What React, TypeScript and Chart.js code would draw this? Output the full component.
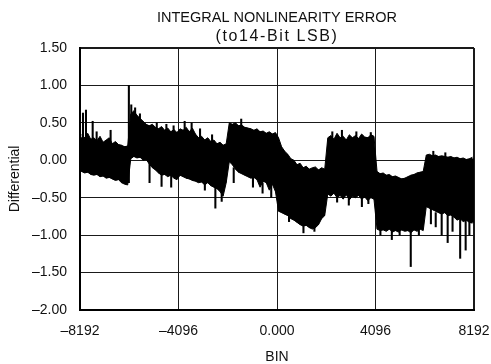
import React, { useEffect, useRef } from "react";
import { Chart, registerables } from "chart.js";

Chart.register(...registerables);

const TITLE = "INTEGRAL NONLINEARITY ERROR";
const SUBTITLE = "(to14-Bit LSB)";
const X_LABEL = "BIN";
const Y_LABEL = "Differential";
const X_TICKS = [-8192, -4096, 0, 4096, 8192];
const Y_TICKS = [-2, -1.5, -1, -0.5, 0, 0.5, 1, 1.5];

// code bins: 128 bins of 128 codes each, from -8192 to 8192
const BIN_FIRST = -8192;
const BIN_SIZE = 128;

// envelope of the error band per bin (LSB)
const seg1High = [0.34, 0.3, 0.36, 0.28, 0.3, 0.26, 0.32, 0.24, 0.27, 0.3, 0.22, 0.25, 0.21, 0.2, 0.18, 0.19];
const seg1Low = [-0.15, -0.17, -0.16, -0.19, -0.2, -0.19, -0.22, -0.21, -0.24, -0.23, -0.25, -0.27, -0.26, -0.3, -0.32, -0.33];
const seg2High = [0.62, 0.66, 0.6, 0.56, 0.52, 0.48, 0.46, 0.48, 0.44, 0.42, 0.45, 0.4, 0.43, 0.38, 0.41, 0.37,
  0.42, 0.4, 0.44, 0.38, 0.43, 0.35, 0.3, 0.32, 0.27, 0.3, 0.25, 0.27, 0.22, 0.24, 0.2, 0.22];
const seg2Low = [0.02, 0.05, 0.03, 0.04, 0.0, 0.01, -0.05, -0.1, -0.13, -0.17, -0.2, -0.19, -0.22, -0.2, -0.24, -0.26,
  -0.2, -0.22, -0.24, -0.25, -0.27, -0.28, -0.3, -0.29, -0.33, -0.3, -0.34, -0.36, -0.38, -0.42, -0.48, -0.3];
const seg3High = [0.5, 0.48, 0.5, 0.46, 0.47, 0.44, 0.43, 0.42, 0.4, 0.42, 0.38, 0.39, 0.36, 0.38, 0.35, 0.37];
const seg3Low = [-0.02, -0.06, -0.12, -0.16, -0.18, -0.2, -0.22, -0.24, -0.23, -0.26, -0.36, -0.28, -0.3, -0.4, -0.32, -0.42];
const seg4High = [0.3, 0.18, 0.12, 0.08, 0.02, 0.0, -0.06, -0.04, -0.1, -0.08, -0.12, -0.1, -0.09, -0.13, -0.1, -0.12];
const seg4Low = [-0.68, -0.7, -0.72, -0.74, -0.78, -0.8, -0.83, -0.86, -0.88, -0.87, -0.9, -0.92, -0.9, -0.86, -0.78, -0.74];
const seg5High = [0.3, 0.33, 0.28, 0.36, 0.3, 0.32, 0.27, 0.34, 0.3, 0.33, 0.29, 0.35, 0.31, 0.3, 0.34, 0.32];
const seg5Low = [-0.45, -0.48, -0.44, -0.5, -0.47, -0.52, -0.46, -0.53, -0.48, -0.5, -0.47, -0.52, -0.49, -0.54, -0.5, -0.52];
const seg6High = [-0.15, -0.18, -0.17, -0.2, -0.19, -0.22, -0.21, -0.23, -0.25, -0.24, -0.22, -0.2, -0.19, -0.17, -0.16, -0.15];
const seg6Low = [-0.92, -0.94, -0.93, -0.95, -0.92, -0.96, -0.94, -0.96, -0.93, -0.95, -0.94, -0.97, -0.93, -0.95, -0.92, -0.94];
const seg7High = [0.07, 0.08, 0.06, 0.07, 0.05, 0.06, 0.05, 0.04, 0.05, 0.03, 0.04, 0.02, 0.03, 0.01, 0.02, 0.04];
const seg7Low = [-0.62, -0.64, -0.66, -0.68, -0.7, -0.72, -0.7, -0.74, -0.73, -0.76, -0.8, -0.78, -0.82, -0.8, -0.83, -0.84];

// isolated glitches (code, from, to)
const spikeCodes = [-8068, -7943, -7665, -7500, -6919, -6160, -6060, -5900, -5700, -5000, -4600, -4300, -3840, -3550, -3200, -2700, -1488,
  -5300, -4800, -4400, -3000, -2563, -2300, -1800, -1000, -600, -240,
  500, 1100, 1556, 2300, 2700, 3300, 3900, 2500, 2986, 3530, 3800,
  4300, 4775, 5100, 5562, 5900, 6500, 7000, 6400, 6600, 6848, 7097, 7300, 7617, 7845, 8000];
const spikeFrom = [0.1, 0.1, 0.1, 0.1, 0.1, -0.3, 0.3, 0.3, 0.3, 0.3, 0.3, 0.3, 0.3, 0.3, 0.2, 0.2, 0.3,
  0.0, -0.15, -0.15, -0.2, -0.3, -0.3, -0.1, -0.2, -0.3, -0.3,
  -0.7, -0.8, -0.8, 0.2, 0.2, 0.2, 0.2, -0.4, -0.45, -0.45, -0.45,
  -0.9, -0.9, -0.9, -0.9, -0.9, 0.0, 0.0, -0.6, -0.7, -0.7, -0.7, -0.7, -0.7, -0.7, -0.7];
const spikeTo = [0.63, 0.67, 0.52, 0.38, 0.4, 1.0, 0.74, 0.7, 0.62, 0.5, 0.48, 0.46, 0.52, 0.5, 0.42, 0.34, 0.55,
  -0.3, -0.35, -0.36, -0.4, -0.64, -0.55, -0.3, -0.36, -0.44, -0.5,
  -0.82, -0.97, -0.95, 0.38, 0.4, 0.38, 0.37, -0.56, -0.6, -0.62, -0.58,
  -1.0, -1.06, -1.0, -1.42, -1.0, 0.12, 0.1, -0.85, -0.89, -1.0, -1.1, -0.95, -1.31, -1.2, -1.0];

const bodyHigh = [...seg1High, ...seg2High, ...seg3High, ...seg4High, ...seg5High, ...seg6High, ...seg7High];
const bodyLow = [...seg1Low, ...seg2Low, ...seg3Low, ...seg4Low, ...seg5Low, ...seg6Low, ...seg7Low];

const FONT = "'Liberation Sans', Arial, Helvetica, sans-serif";
const INK = "#111";

const fmtY = (v: number) => (v < 0 ? "\u2013" + Math.abs(v).toFixed(2) : v.toFixed(2));
const fmtX = (v: number) => (v === 0 ? "0.000" : v < 0 ? "\u2013" + Math.abs(v) : String(v));

// points at bin centres
const binX = (i: number) => BIN_FIRST + BIN_SIZE * (i + 0.5);
const toPoints = (vals: number[]) => vals.map((v, i) => ({ x: binX(i), y: v }));

export default function App() {
  const ref = useRef<HTMLCanvasElement | null>(null);

  useEffect(() => {
    if (!ref.current) return;
    const spikes = spikeCodes.map((c, i) => ({ x: c, y: [spikeFrom[i], spikeTo[i]] }));
    // inner core of each bin (never wider than the envelope), drawn as solid bars
    const core = bodyHigh.map((h, i) => {
      const hi = Math.min(h, i > 0 ? bodyHigh[i - 1] : h, i < bodyHigh.length - 1 ? bodyHigh[i + 1] : h);
      const lo = Math.max(bodyLow[i], i > 0 ? bodyLow[i - 1] : bodyLow[i], i < bodyLow.length - 1 ? bodyLow[i + 1] : bodyLow[i]);
      return { x: binX(i), y: [lo, hi] };
    });
    const chart = new Chart(ref.current, {
      type: "line",
      data: {
        datasets: [
          {
            type: "line",
            data: toPoints(bodyHigh) as any,
            borderColor: "#000",
            borderWidth: 1,
            pointRadius: 0,
            fill: false,
          } as any,
          {
            type: "line",
            data: toPoints(bodyLow) as any,
            borderColor: "#000",
            borderWidth: 1,
            backgroundColor: "#000",
            pointRadius: 0,
            fill: "-1",
          } as any,
          {
            type: "bar",
            data: core as any,
            backgroundColor: "#000",
            borderWidth: 0,
            barThickness: 6,
            grouped: false,
          } as any,
          {
            type: "bar",
            data: spikes as any,
            backgroundColor: "#000",
            borderWidth: 0,
            barThickness: 1.4,
            grouped: false,
          } as any,
        ],
      },
      options: {
        responsive: false,
        animation: false,
        devicePixelRatio: 1,
        layout: { padding: { left: 0, right: 17, top: 0, bottom: 0 } },
        plugins: {
          legend: { display: false },
          tooltip: { enabled: false },
          title: {
            display: true,
            text: TITLE,
            fullSize: false,
            color: INK,
            font: { family: FONT, size: 14.5, weight: "normal" },
            padding: { top: 9.5, bottom: 0 },
          },
          subtitle: {
            display: true,
            text: SUBTITLE,
            fullSize: false,
            color: INK,
            font: { family: FONT, size: 16, weight: "normal", lineHeight: 1.0 },
            padding: { top: 1.5, bottom: 3.5 },
          },
        },
        scales: {
          x: {
            type: "linear",
            min: -8192,
            max: 8192,
            offset: false,
            afterBuildTicks: (s: any) => {
              s.ticks = X_TICKS.map((v) => ({ value: v }));
            },
            afterFit: (s: any) => {
              s.height = 54;
              s.paddingLeft = 0;
              s.paddingRight = 0;
            },
            ticks: {
              callback: (v: any) => fmtX(Number(v)),
              color: INK,
              font: { family: FONT, size: 14 },
              padding: 13,
              maxRotation: 0,
              autoSkip: false,
            },
            grid: {
              color: "#1a1a1a",
              lineWidth: (c: any) => (c.tick && c.tick.value === 8192 ? 2 : 1),
              drawTicks: false,
              offset: false,
            },
            border: { display: true, color: "#000", width: 2 },
            title: {
              display: true,
              text: X_LABEL,
              color: INK,
              font: { family: FONT, size: 14 },
              padding: { top: 0, bottom: -2 },
            },
          },
          y: {
            min: -2,
            max: 1.5,
            afterBuildTicks: (s: any) => {
              s.ticks = Y_TICKS.map((v) => ({ value: v }));
            },
            afterFit: (s: any) => {
              s.width = 80;
            },
            ticks: {
              callback: (v: any) => fmtY(Number(v)),
              color: INK,
              font: { family: FONT, size: 14 },
              padding: 13,
            },
            grid: {
              color: "#1a1a1a",
              lineWidth: (c: any) => (c.tick && c.tick.value === 1.5 ? 2 : 1),
              drawTicks: false,
            },
            border: { display: true, color: "#000", width: 2 },
            title: {
              display: true,
              text: Y_LABEL,
              color: INK,
              font: { family: FONT, size: 14 },
              padding: { top: 7, bottom: 0 },
            },
          },
        },
      } as any,
    });

    // the printed subtitle is set a little wider than normal
    const sub: any = (chart as any).boxes.find((b: any) => b.options && b.options.text === SUBTITLE);
    if (sub) {
      const origDraw = sub.draw.bind(sub);
      sub.draw = (area: any) => {
        const ctx: any = chart.ctx;
        ctx.save();
        ctx.letterSpacing = "1.6px";
        origDraw(area);
        ctx.restore();
      };
      chart.draw();
    }
    return () => chart.destroy();
  }, []);

  return (
    <div style={{ position: "fixed", left: 0, top: 0, width: 491, height: 364, background: "#fff" }}>
      <canvas ref={ref} width={491} height={364} style={{ width: 491, height: 364, display: "block" }} />
    </div>
  );
}
